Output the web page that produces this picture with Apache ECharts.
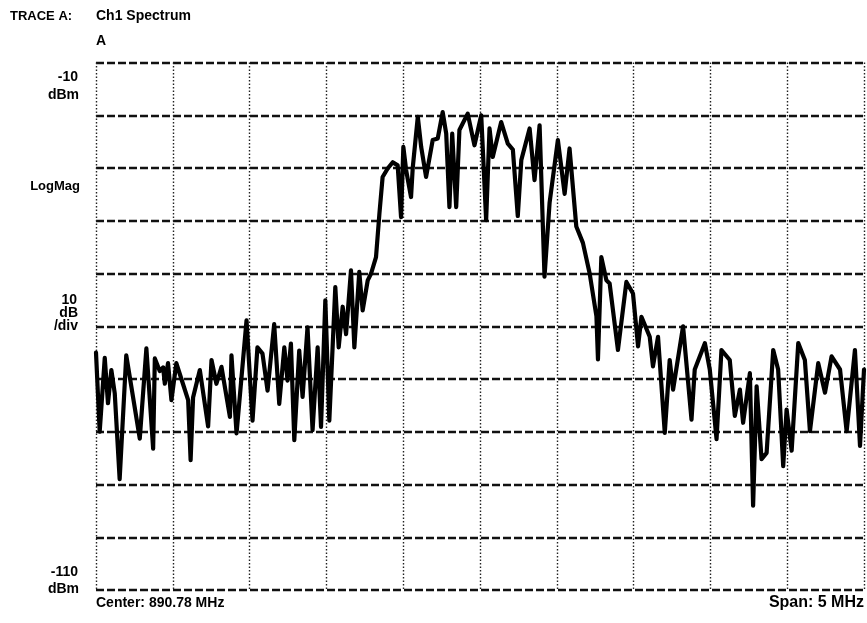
<!DOCTYPE html>
<html>
<head>
<meta charset="utf-8">
<script src="https://cdn.jsdelivr.net/npm/echarts@6/dist/echarts.min.js"></script>
<style>html,body{margin:0;padding:0;background:#fff;}#c{width:867px;height:623px;}</style>
</head>
<body>
<div id="c"></div>
<script>
// Frequency offset from center (MHz) and level (dBm)
const freqOffsetMHz = [
 -2.5,-2.476,-2.443,-2.422,-2.4,-2.378,-2.346,-2.303,-2.215,-2.172,-2.128,-2.117,-2.085,-2.063,-2.052,-2.031,-2.009,-1.977,-1.944,-1.9,-1.884,-1.868,-1.824,-1.77,-1.748,-1.716,-1.683,-1.628,-1.618,-1.585,-1.52,
 -1.481,-1.449,-1.416,-1.383,-1.34,-1.307,-1.274,-1.253,-1.231,-1.209,-1.177,-1.155,-1.123,-1.09,-1.057,-1.035,-1.007,-0.981,-0.942,-0.92,-0.894,-0.872,
 -0.84,-0.818,-0.786,-0.764,-0.731,-0.709,-0.677,-0.655,-0.634,-0.601,-0.568,-0.536,-0.514,-0.499,-0.481,-0.449,-0.438,-0.405,-0.383,-0.351,-0.308,-0.275,-0.243,-0.22,-0.199,-0.181,-0.155,-0.134,-0.08,-0.036,0.008,0.04,0.062,
 0.083,0.138,0.181,0.214,0.246,0.269,0.323,0.355,0.388,0.42,0.453,0.507,0.551,0.583,0.627,0.67,0.714,0.758,0.768,0.79,0.823,
 0.844,0.898,0.953,0.996,1.029,1.051,1.105,1.126,1.159,1.203,1.235,1.257,1.322,1.377,1.398,1.464,1.496,1.54,1.572,1.626,1.659,1.692,1.713,1.757,1.778,1.801,1.833,1.866,1.909,1.941,1.974,1.996,2.029,2.072,2.115,2.148,2.202,2.246,2.289,2.344,2.387,2.441,2.474,2.5
];
const levelDBm = [
 -65,-80,-66,-74.6,-68.3,-72.7,-89,-65.5,-81.3,-64.2,-83.2,-66.1,-68.5,-67.8,-70.9,-67,-74,-67,-70,-74,-85.4,-73.5,-68.3,-79,-66.4,-70.9,-67.7,-77.2,-65.5,-80.3,-58.9,
 -77.9,-64,-65.2,-72.2,-59.6,-74.7,-64,-70.3,-63.3,-81.6,-64.6,-73.4,-60.2,-79.7,-64,-79.1,-55.1,-77.9,-52.6,-64,-56.3,-61.5,
 -49.4,-64,-49.7,-57,-51.3,-50,-46.9,-38.7,-31.7,-30.1,-28.9,-29.5,-39.3,-26,-30.4,-35.5,-30,-20.3,-26,-31.7,-24.7,-24.4,-19.4,-23.5,-37.4,-23.5,-37.4,-22.8,-19.7,-25.7,-20,-39.9,-22.5,
 -27.9,-21.3,-25.4,-26.5,-39.1,-28.5,-22.5,-32.3,-21.9,-50.6,-36.6,-24.7,-34.9,-26.3,-41.1,-44.2,-50,-58.1,-66.3,-46.9,-51.3,
 -51.9,-64.5,-51.6,-53.8,-63.8,-58.2,-62,-67.6,-62,-80.2,-66.4,-72,-60,-77.7,-68.2,-63.2,-68.2,-81.4,-64.5,-66.4,-77,-72,-78.3,-68.9,-94,-71.4,-85.2,-84,-64.5,-68.2,-86.5,-75.8,-83.6,-63.2,-66.4,-79.9,-67,-72.6,-65.7,-68.2,-79.9,-64.5,-82.7,-68.2
];
const traceTitle = "TRACE A:";
const traceName = "Ch1 Spectrum";
const traceId = "A";
const refLevel = ["-10", "dBm"];
const bottomLevel = ["-110", "dBm"];
const scaleText = ["10", "dB", "/div"];
const modeText = "LogMag";
const centerText = "Center: 890.78 MHz";
const spanText = "Span: 5 MHz";

const data = freqOffsetMHz.map((f, i) => [f, levelDBm[i]]);
const chart = echarts.init(document.getElementById('c'), null, {renderer: 'canvas'});
const F = '"Liberation Sans", Arial, sans-serif';
const txt = (x, y, s, size, align) => ({
  type: 'text', x: x, y: y,
  style: {text: s, font: 'bold ' + size + 'px ' + F, fill: '#000', textAlign: align || 'left', textVerticalAlign: 'middle'}
});
chart.setOption({
  animation: false,
  backgroundColor: '#fff',
  grid: {left: 96, right: 3, top: 62.5, bottom: 33, containLabel: false},
  xAxis: {
    type: 'value', min: -2.5, max: 2.5, interval: 0.5,
    axisLine: {show: false}, axisTick: {show: false}, axisLabel: {show: false},
    splitLine: {show: true, lineStyle: {color: '#222', width: 1.4, type: [1.5, 2]}}
  },
  yAxis: {
    type: 'value', min: -110, max: -10, interval: 10,
    axisLine: {show: false}, axisTick: {show: false}, axisLabel: {show: false},
    splitLine: {show: true, lineStyle: {color: '#111', width: 2.4, type: [8, 3]}}
  },
  series: [{
    type: 'line', data: data, showSymbol: false, smooth: false,
    lineStyle: {color: '#000', width: 4.2, join: 'round', cap: 'round'},
    silent: true
  }],
  graphic: [
    txt(10, 16, traceTitle, 13),
    txt(96, 16, traceName, 14),
    txt(96, 41, traceId, 14),
    txt(78, 77, refLevel[0], 14, 'right'),
    txt(79, 95, refLevel[1], 14, 'right'),
    txt(80, 186, modeText, 13, 'right'),
    txt(77, 300, scaleText[0], 14, 'right'),
    txt(78, 313, scaleText[1], 14, 'right'),
    txt(78, 326, scaleText[2], 14, 'right'),
    txt(78, 572, bottomLevel[0], 14, 'right'),
    txt(79, 589, bottomLevel[1], 14, 'right'),
    txt(96, 603, centerText, 14),
    txt(864, 603, spanText, 16, 'right')
  ]
});
</script>
</body>
</html>
